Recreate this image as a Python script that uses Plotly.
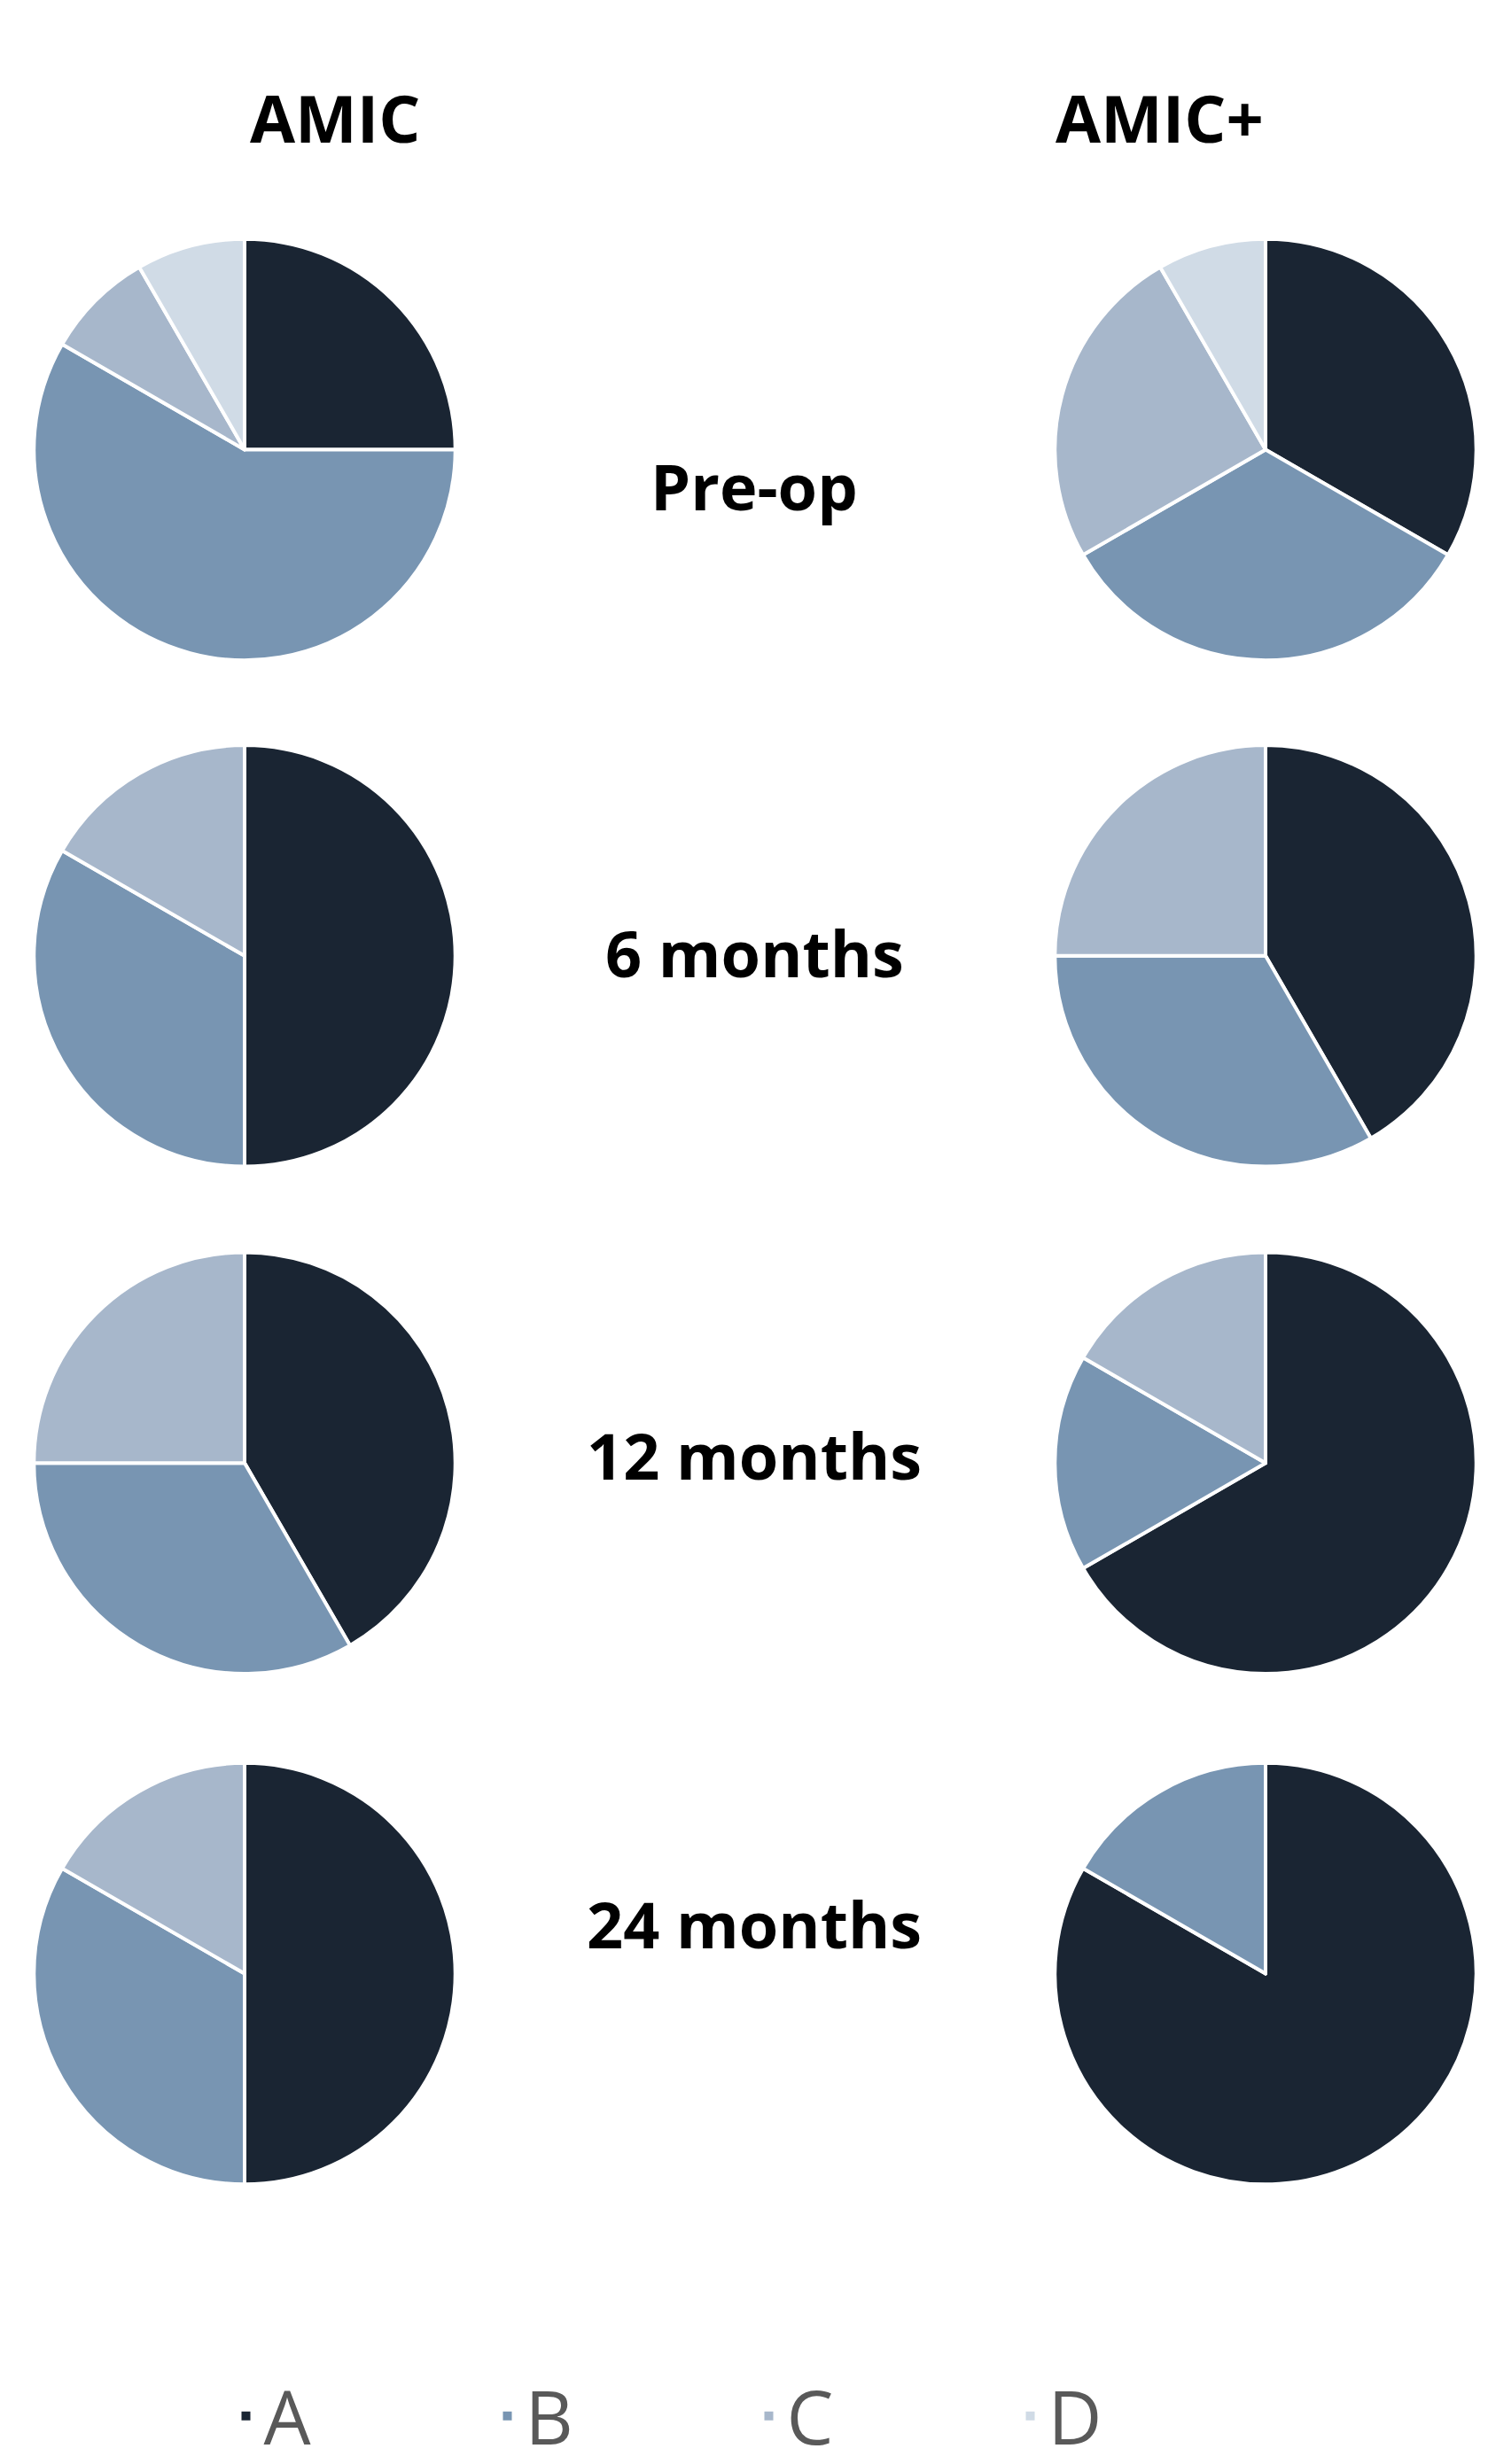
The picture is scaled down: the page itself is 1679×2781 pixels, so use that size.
import plotly.graph_objects as go

labels = ["A", "B", "C", "D"]
colors = ["#1a2533", "#7895b2", "#a7b7cb", "#d0dbe6"]
timepoints = ["Pre-op", "6 months", "12 months", "24 months"]
groups = ["AMIC", "AMIC+"]
amic = [[3, 7, 1, 1], [6, 4, 2, 0], [5, 4, 3, 0], [6, 4, 2, 0]]
amic_plus = [[4, 4, 3, 1], [5, 4, 3, 0], [8, 2, 2, 0], [10, 2, 0, 0]]

W, H = 1679, 2781
cx = [268, 1420]
cy = [500, 1072, 1645, 2222]
r = 238

fig = go.Figure()
first = True
for gi, data in enumerate([amic, amic_plus]):
    for ti, vals in enumerate(data):
        fig.add_trace(go.Pie(
            labels=labels, values=vals, sort=False, direction="clockwise", rotation=0,
            marker=dict(colors=colors, line=dict(color="white", width=4)),
            textinfo="none", hoverinfo="label+value", showlegend=first,
            domain=dict(x=[(cx[gi]-r)/W, (cx[gi]+r)/W], y=[1-(cy[ti]+r)/H, 1-(cy[ti]-r)/H]),
        ))
        first = False

ann = []
for gi, g in enumerate(groups):
    ann.append(dict(text=g, x=[272, 1420][gi]/W, y=1-72/H, xref="paper", yref="paper",
                    showarrow=False, font=dict(size=74, family="Open Sans", color="black", weight="bold")))
for ti, t in enumerate(timepoints):
    ann.append(dict(text=t, x=843/W, y=1-[490, 1068, 1636, 2216][ti]/H, xref="paper", yref="paper",
                    showarrow=False, font=dict(size=72, family="Open Sans", color="black", weight="bold")))

fig.update_layout(
    width=W, height=H, margin=dict(l=0, r=0, t=0, b=0),
    paper_bgcolor="white", plot_bgcolor="white", annotations=ann,
    legend=dict(orientation="h", x=0.5, xanchor="center", y=1-2722/H, yanchor="middle",
                font=dict(size=84, family="Open Sans", color="#595959"),
                itemsizing="constant", traceorder="normal", entrywidth=250),
)
fig.write_html("out.html")
